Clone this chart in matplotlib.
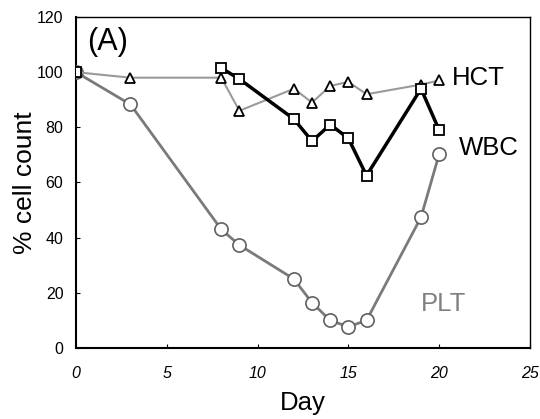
import matplotlib
matplotlib.use("Agg")
import matplotlib.pyplot as plt
import numpy as np

plt.rcParams['font.family'] = ['Liberation Sans', 'DejaVu Sans']

hct_days = [0, 3, 8, 9, 12, 13, 14, 15, 16, 19, 20]
hct_vals = [100, 98, 98, 86, 94, 89, 95, 96.5, 92, 95.5, 97]

wbc_days = [0, 8, 9, 12, 13, 14, 15, 16, 19, 20]
wbc_vals = [100, 101.5, 97.5, 83, 75, 81, 76, 62.5, 94, 79]

plt_days = [0, 3, 8, 9, 12, 13, 14, 15, 16, 19, 20]
plt_vals = [100, 88.3, 43, 37.3, 25, 16.4, 10, 7.7, 10, 47.4, 70.3]

x_ticks = [0, 5, 10, 15, 20, 25]
y_ticks = [0, 20, 40, 60, 80, 100, 120]

fig = plt.figure(figsize=(5.4, 4.19), dpi=100)
ax = fig.add_axes([0.1407, 0.1695, 0.8407, 0.7899])

# PLT
ax.plot(plt_days, plt_vals, color='#7a7a7a', lw=2.0, zorder=2)
ax.plot(plt_days, plt_vals, ls='none', marker='o', ms=9.5, mfc='white',
        mec='#606060', mew=1.2, zorder=3)
# HCT
ax.plot(hct_days, hct_vals, color='#9a9a9a', lw=1.5, zorder=4)
ax.plot(hct_days, hct_vals, ls='none', marker='^', ms=7, mfc='white',
        mec='black', mew=1.3, zorder=5)
# WBC (no line between day 0 and day 8)
ax.plot(wbc_days[1:], wbc_vals[1:], color='black', lw=2.5, zorder=6)
ax.plot(wbc_days, wbc_vals, ls='none', marker='s', ms=7, mfc='white',
        mec='black', mew=1.3, zorder=7)

ax.set_xlim(0, 25)
ax.set_ylim(0, 120)
ax.set_xticks(x_ticks)
ax.set_yticks(y_ticks)
ax.set_xticklabels([str(t) for t in x_ticks], fontstyle='italic', fontsize=11.5)
ax.set_yticklabels([str(t) for t in y_ticks], fontsize=11.5)
ax.tick_params(direction='in', length=3, width=0.8)
ax.tick_params(axis='x', pad=13)
ax.tick_params(axis='y', pad=9)
for s in ax.spines.values():
    s.set_linewidth(1.0)
ax.spines['left'].set_linewidth(1.5)
ax.spines['bottom'].set_linewidth(1.5)

ax.set_xlabel('Day', fontsize=18.5, labelpad=7)
ax.set_ylabel('% cell count', fontsize=19, labelpad=0)

ax.text(0.6, 111, '(A)', fontsize=22, va='center', ha='left')
ax.text(20.7, 98, 'HCT', fontsize=18.5, va='center', ha='left')
ax.text(21.1, 72.5, 'WBC', fontsize=18.5, va='center', ha='left')
ax.text(19.0, 16, 'PLT', fontsize=18.5, va='center', ha='left', color='#808080')

fig.savefig('out.png', dpi=100)
